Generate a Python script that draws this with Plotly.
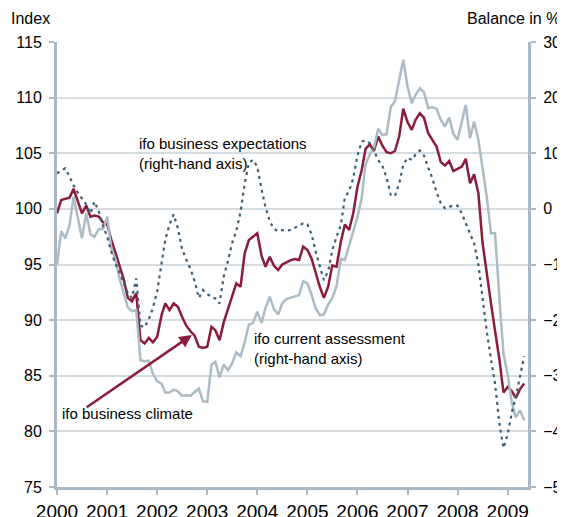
import pandas as pd
import plotly.graph_objects as go

# Monthly, Jan 2000 - May 2009
months = pd.date_range("2000-01-01", periods=113, freq="MS")

# ifo business climate (index, left axis)
climate = [
    99.6, 100.8, 100.9, 101.0, 101.8, 100.7, 99.6, 100.3, 99.3, 99.4, 99.3, 98.8,
    98.6, 97.2, 96.2, 94.9, 93.7, 92.0, 91.7, 92.4, 88.2, 87.9, 88.4, 88.0,
    88.5, 90.4, 91.5, 90.9, 91.5, 91.2, 90.3, 89.5, 89.0, 88.6, 87.6, 87.5,
    87.6, 89.4, 89.1, 88.2, 89.8, 91.0, 92.2, 93.3, 93.0, 96.0, 97.2, 97.5,
    97.8, 95.8, 94.8, 95.7, 94.9, 94.5, 95.0, 95.2, 95.4, 95.5, 95.4, 96.6,
    96.3, 95.5, 94.2, 93.0, 92.0, 93.0, 94.9, 94.8, 97.0, 98.6, 98.1, 99.6,
    102.0, 103.5, 105.4, 105.8, 105.2, 106.5, 105.7, 105.1, 105.0, 105.2, 106.5, 109.0,
    107.8, 107.1, 108.0, 108.6, 108.2, 106.8, 106.2, 105.6, 104.2, 103.9, 104.3, 103.4,
    103.6, 103.8, 104.5, 102.3, 103.1, 101.4, 97.0, 94.0, 91.5, 89.0, 86.5, 83.5,
    84.0, 83.6, 83.0, 83.8, 84.3,
]

# ifo current assessment (balance in %, right axis)
assessment = [
    -10.0, -4.0, -5.3, -3.0, 2.2, -1.5, -5.3, -0.8, -4.6, -5.0, -3.6, -3.6,
    -1.4, -7.2, -9.0, -12.5, -15.0, -17.7, -18.4, -18.2, -27.2, -27.4, -27.3, -29.7,
    -31.0, -31.4, -33.0, -33.0, -32.5, -32.8, -33.6, -33.5, -33.6, -33.0, -32.3, -34.6,
    -34.7, -28.0, -27.5, -30.3, -28.0, -29.0, -27.8, -25.8, -26.5, -24.0, -20.8, -20.5,
    -18.5, -20.5, -17.8, -15.8, -18.0, -19.0, -17.0, -16.2, -16.0, -15.8, -15.5, -13.0,
    -13.4, -15.5, -17.8, -19.1, -19.0, -17.2, -16.0, -14.0, -9.0, -9.2, -6.5, -3.8,
    -1.5, 2.0, 8.0, 9.8, 11.0, 14.4, 13.3, 13.4, 18.3, 19.3, 23.2, 26.8,
    22.0, 19.0, 20.5, 21.7, 21.0, 18.1, 18.3, 18.0, 16.0, 14.8, 16.4, 13.5,
    12.4, 15.7, 18.7, 12.7, 15.7, 12.4, 7.0, 2.2, -4.4, -4.4, -16.0, -26.0,
    -29.8, -35.0, -37.5, -36.2, -38.0,
]

# ifo business expectations (balance in %, right axis)
expectations = [
    6.4, 6.8, 7.3, 5.8, 4.2, 2.9, 1.9, 0.8, -0.8, 1.3, -0.5, -3.0,
    -5.0, -7.8, -9.8, -11.4, -13.3, -15.2, -16.0, -12.5, -21.0, -21.3, -19.8, -17.8,
    -14.8, -9.5, -5.5, -2.8, -1.0, -3.5, -7.2, -9.1, -10.8, -13.0, -16.0, -14.6,
    -15.3, -15.8, -16.1, -17.0, -12.2, -9.4, -6.2, -4.0, -0.5, 4.5, 8.3, 8.8,
    7.6, 3.6, 0.3, -2.2, -3.6, -4.0, -3.8, -3.9, -3.8, -3.4, -3.0, -2.6,
    -2.8, -4.6, -7.6, -10.5, -12.8, -11.2, -7.5, -5.0, -3.0, 2.0, 3.2, 5.5,
    9.6, 12.1, 12.3, 11.8, 10.5, 8.8, 7.8, 5.6, 2.5, 2.3, 4.5, 7.9,
    9.2, 8.8, 9.8, 10.5, 9.6, 7.4, 5.5, 3.0, 1.0, 0.1, 0.4, 0.6,
    0.6, -0.8, -2.6, -4.5, -6.2, -10.0, -16.0, -22.0, -27.0, -31.5, -38.5, -43.0,
    -40.5, -36.5, -33.8, -30.0, -26.5,
]

left_ticks = [75, 80, 85, 90, 95, 100, 105, 110, 115]
right_ticks = [-50, -40, -30, -20, -10, 0, 10, 20, 30]

RED = "#8b1c3c"
GRAY = "#adbbc5"
DOT = "#3d5f78"
AXIS = "#a9b8c3"
GRID = "#d5dce2"
FONT = "Liberation Sans, Arial, sans-serif"

fig = go.Figure()
fig.add_trace(go.Scatter(x=months, y=assessment, yaxis="y2", mode="lines",
                         line=dict(color=GRAY, width=2.5), name="ifo current assessment"))
fig.add_trace(go.Scatter(x=months, y=expectations, yaxis="y2", mode="lines",
                         line=dict(color=DOT, width=2.2, dash="3px,4px"),
                         name="ifo business expectations"))
fig.add_trace(go.Scatter(x=months, y=climate, yaxis="y", mode="lines",
                         line=dict(color=RED, width=2.5), name="ifo business climate"))

# the page body adds an 8px offset; figure is sized so the plot lands where the reference's does
fig.update_layout(
    width=557, height=509,
    margin=dict(l=49, r=37, t=34, b=30, autoexpand=False),
    paper_bgcolor="white", plot_bgcolor="white",
    showlegend=False,
    font=dict(family=FONT, color="#000000", size=15),
    xaxis=dict(
        type="date", range=["2000-01-01", "2009-05-29"],
        tick0="2000-01-01", dtick="M12", tickformat="%Y",
        showgrid=False, zeroline=False, automargin=False,
        showline=True, linecolor=AXIS, linewidth=3,
        ticks="outside", ticklen=5, tickwidth=2, tickcolor=AXIS,
        tickfont=dict(size=19, family=FONT, color="#000000"),
    ),
    yaxis=dict(
        range=[75, 115], tickvals=left_ticks, automargin=False,
        showgrid=True, gridcolor=GRID, gridwidth=1.5, zeroline=False,
        showline=True, linecolor=AXIS, linewidth=3,
        ticks="outside", ticklen=5, tickwidth=2, tickcolor=AXIS,
        tickfont=dict(size=16, family=FONT, color="#000000"),
        ticklabelstandoff=4,
    ),
    yaxis2=dict(
        range=[-50, 30], tickvals=right_ticks, overlaying="y", side="right",
        showgrid=False, zeroline=False, automargin=False,
        showline=True, linecolor=AXIS, linewidth=3,
        ticks="outside", ticklen=5, tickwidth=2, tickcolor=AXIS,
        tickfont=dict(size=16, family=FONT, color="#000000"),
        ticklabelstandoff=4,
    ),
)

annotations = [
    dict(text="Index", xref="paper", yref="paper", x=-0.056, y=1.0, yshift=24,
         xanchor="center", yanchor="middle", showarrow=False, font=dict(size=16)),
    dict(text="Balance in %", xref="paper", yref="paper", x=0.969, y=1.0, yshift=24,
         xanchor="center", yanchor="middle", showarrow=False, font=dict(size=16)),
    dict(text="ifo business expectations<br>(right-hand axis)", xref="x", yref="y",
         x="2001-08-07", y=105.0, xanchor="left", yanchor="middle", align="left",
         showarrow=False, font=dict(size=15)),
    dict(text="ifo current assessment<br>(right-hand axis)", xref="x", yref="y",
         x="2003-11-25", y=87.45, xanchor="left", yanchor="middle", align="left",
         showarrow=False, font=dict(size=15)),
    dict(text="ifo business climate", xref="x", yref="y",
         x="2000-01-25", y=81.65, xanchor="left", yanchor="middle", align="left",
         showarrow=False, font=dict(size=15)),
    dict(text="", xref="x", yref="y", axref="x", ayref="y",
         x="2002-09-11", y=88.66, ax="2000-07-25", ay=82.07,
         showarrow=True, arrowhead=2, arrowsize=1.0, arrowwidth=2.5, arrowcolor=RED),
]
fig.update_layout(annotations=annotations)

fig.write_html("out.html")
